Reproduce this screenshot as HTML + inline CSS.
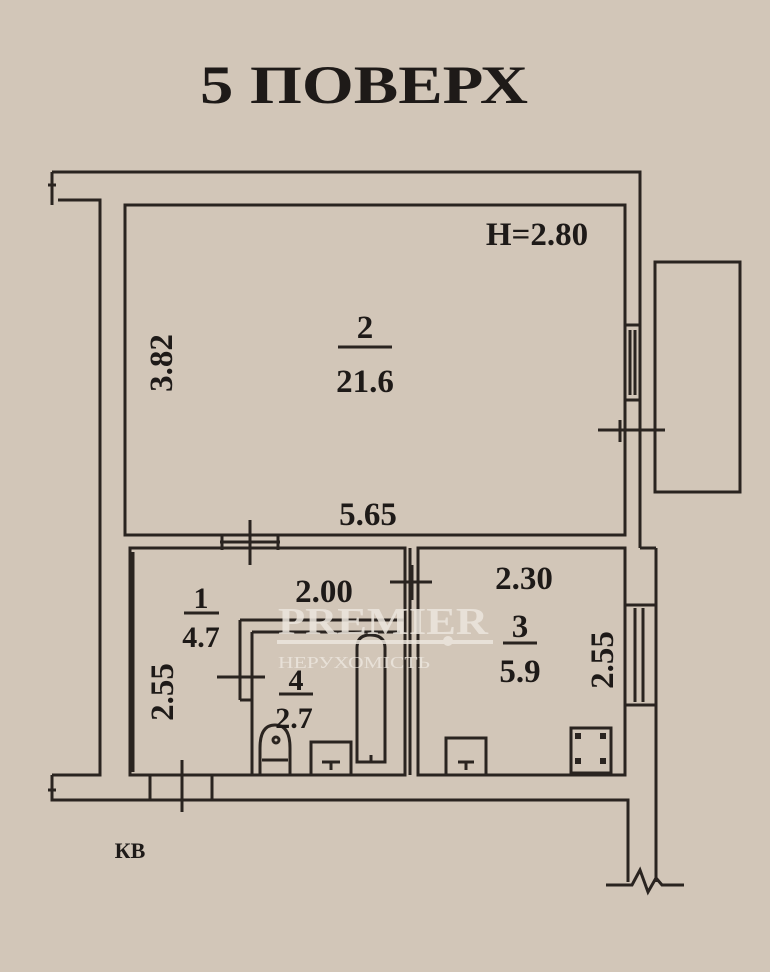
<!DOCTYPE html>
<html><head><meta charset="utf-8"><style>
html,body{margin:0;padding:0;background:#d2c6b8;}
svg{display:block}
text{font-family:"Liberation Serif",serif;font-weight:bold;fill:#1e1a18}
</style></head><body>
<svg width="770" height="972" viewBox="0 0 770 972" xmlns="http://www.w3.org/2000/svg">
<rect width="770" height="972" fill="#d2c6b8"/>
<text x="200" y="103" font-size="54" textLength="328" lengthAdjust="spacingAndGlyphs">5 ПОВЕРХ</text>
<g stroke="#2a2420" stroke-width="3" fill="none">
<path d="M52 172 H640 V548"/>
<path d="M52 172 V205 M48 185 H56"/>
<path d="M58 200 H100 V775 H52"/>
<path d="M52 775 V800 H628 V882"/>
<path d="M48 790 H56"/>
<path d="M656 548 V882"/>
<path d="M640 548 H656"/>
<rect x="125" y="205" width="500" height="330"/>
<path d="M625 325 H640 M625 400 H640 M630 330 V395 M635 330 V395"/>
<path d="M598 430 H665 M620 420 V442"/>
<rect x="655" y="262" width="85" height="230"/>
<path d="M130 548 H405 V775 H130 Z"/>
<path d="M133 552 V772"/>
<path d="M418 548 H625 V775 H418 Z"/>
<path d="M410 548 V775"/>
<path d="M220 542 H280 M250 520 V565 M222 535 V550 M278 535 V550"/>
<path d="M390 582 H432 M412 565 V600"/>
<path d="M150 775 V800 M212 775 V800 M182 760 V812"/>
<path d="M240 620 H405 M240 620 V700 M252 632 H400 M252 632 V775 M240 700 H252"/>
<path d="M217 677 H265"/>
<path d="M357 762 V648 Q357 635 370 635 Q385 635 385 648 V762 Z"/>
<path d="M365 762 H378 M371 755 V762"/>
<rect x="311" y="742" width="40" height="33"/>
<path d="M322 762 H340 M331 762 V770"/>
<path d="M260 775 V748 Q260 725 275 725 Q290 725 290 748 V775 Z M262 760 H288"/>
<circle cx="276" cy="740" r="3"/>
<rect x="446" y="738" width="40" height="37"/>
<path d="M458 762 H474 M466 762 V770"/>
<rect x="571" y="728" width="40" height="45"/>
<path d="M625 605 H655 M625 705 H655 M635 608 V702 M643 608 V702"/>
<path d="M606 885 H632 L640 870 L648 892 L656 878 L662 885 H684"/>
</g>
<g fill="#2a2420"><rect x="575" y="733" width="6" height="6"/><rect x="600" y="733" width="6" height="6"/><rect x="575" y="758" width="6" height="6"/><rect x="600" y="758" width="6" height="6"/></g>
<text x="537" y="245" font-size="33" text-anchor="middle">H=2.80</text>
<text x="365" y="338" font-size="33" text-anchor="middle">2</text>
<path d="M338 347 H392" stroke="#2a2420" stroke-width="3"/>
<text x="365" y="392" font-size="33" text-anchor="middle">21.6</text>
<text transform="translate(172,363) rotate(-90)" font-size="33" text-anchor="middle">3.82</text>
<text x="368" y="525" font-size="33" text-anchor="middle">5.65</text>
<text x="201" y="608" font-size="30" text-anchor="middle">1</text>
<path d="M184 613 H219" stroke="#2a2420" stroke-width="3"/>
<text x="201" y="647" font-size="30" text-anchor="middle">4.7</text>
<text x="324" y="602" font-size="33" text-anchor="middle">2.00</text>
<text x="524" y="589" font-size="33" text-anchor="middle">2.30</text>
<text x="520" y="637" font-size="33" text-anchor="middle">3</text>
<path d="M503 643 H537" stroke="#2a2420" stroke-width="3"/>
<text x="520" y="682" font-size="33" text-anchor="middle">5.9</text>
<text transform="translate(173,692) rotate(-90)" font-size="33" text-anchor="middle">2.55</text>
<text transform="translate(613,660) rotate(-90)" font-size="33" text-anchor="middle">2.55</text>
<text x="296" y="690" font-size="30" text-anchor="middle">4</text>
<path d="M279 694 H313" stroke="#2a2420" stroke-width="3"/>
<text x="294" y="728" font-size="30" text-anchor="middle">2.7</text>
<text x="130" y="858" font-size="22" text-anchor="middle">КВ</text>
<g opacity="0.85">
<text x="278" y="634" font-size="38" textLength="210" lengthAdjust="spacingAndGlyphs" style="fill:#ece6de">PREMIER</text>
<rect x="277" y="640" width="216" height="4" fill="#ece6de"/>
<text x="278" y="668" font-size="17" textLength="152" lengthAdjust="spacingAndGlyphs" style="fill:#ece6de;font-weight:normal">НЕРУХОМІСТЬ</text>
<circle cx="448" cy="641" r="5" fill="#ece6de"/>
</g>
</svg>
</body></html>
